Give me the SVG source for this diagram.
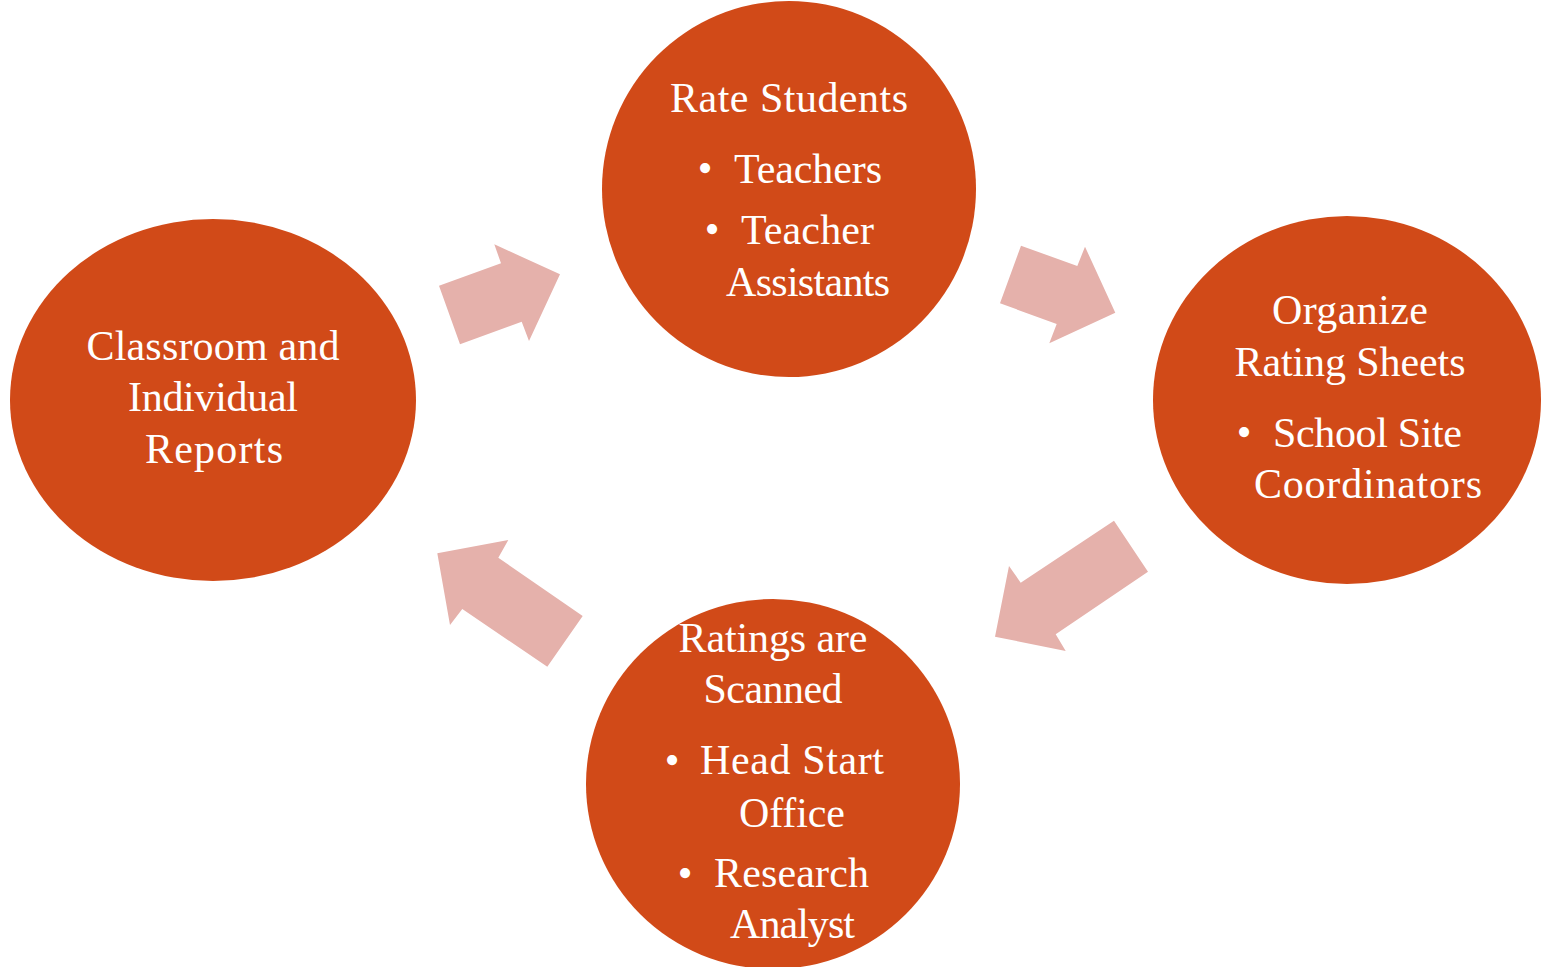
<svg xmlns="http://www.w3.org/2000/svg" width="1541" height="967" viewBox="0 0 1541 967">
<style>
.node{fill:#D14A18}
.arrow{fill:#E5B1AB}
text{font-family:"Liberation Serif","Times New Roman",serif;font-size:42px;fill:#FFFFFF}
.c{text-anchor:middle}
</style>
<rect width="1541" height="967" fill="#FFFFFF"/>
<g id="connectors">
<polygon class="arrow" points="439,285.7 501,263.3 494.3,244.3 560,274.3 529,341 521.7,321.7 460,344.3"/>
<polygon class="arrow" points="1021,245.7 1077.3,266 1085,246.7 1115.3,312.7 1049.3,343.3 1056.7,324 1000,303.3"/>
<polygon class="arrow" points="1114,520.7 1148,571.7 1055.7,634.3 1065.7,651 995,636.7 1009,566 1020.7,582.7"/>
<polygon class="arrow" points="547.3,666.7 582.7,616 498.3,557.7 508.3,540 437.3,553.3 450,625 462.3,609"/>
</g>
<g id="node-reports">
<ellipse class="node" cx="213" cy="400" rx="203" ry="181"/>
<text class="c" x="213" y="360" textLength="253">Classroom and</text>
<text class="c" x="213" y="411" textLength="170">Individual</text>
<text class="c" x="214" y="463" textLength="138">Reports</text>
</g>
<g id="node-rate">
<ellipse class="node" cx="789" cy="189" rx="187" ry="188"/>
<text class="c" x="789" y="112" textLength="238">Rate Students</text>
<text class="c" x="705" y="182">•</text>
<text x="734" y="183" textLength="148">Teachers</text>
<text class="c" x="712" y="243">•</text>
<text x="741" y="244" textLength="133">Teacher</text>
<text x="726" y="296" textLength="164">Assistants</text>
</g>
<g id="node-organize">
<ellipse class="node" cx="1347" cy="400" rx="194" ry="184"/>
<text class="c" x="1350" y="324" textLength="156">Organize</text>
<text class="c" x="1350" y="376" textLength="231">Rating Sheets</text>
<text class="c" x="1244" y="446">•</text>
<text x="1273" y="447" textLength="189">School Site</text>
<text x="1254" y="498" textLength="228">Coordinators</text>
</g>
<g id="node-scanned">
<ellipse class="node" cx="773" cy="784" rx="187" ry="185"/>
<text class="c" x="773" y="652" textLength="189">Ratings are</text>
<text class="c" x="773" y="703" textLength="139">Scanned</text>
<text class="c" x="672" y="774">•</text>
<text x="700" y="774" textLength="184">Head Start</text>
<text x="739" y="827" textLength="106">Office</text>
<text class="c" x="685" y="887">•</text>
<text x="714" y="887" textLength="155">Research</text>
<text x="730" y="938" textLength="125">Analyst</text>
</g>
</svg>
